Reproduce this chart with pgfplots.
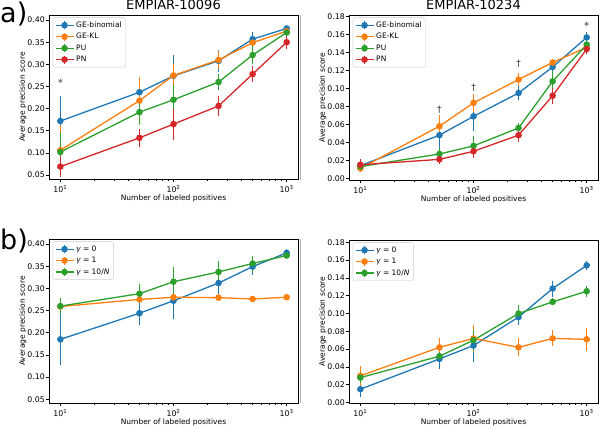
\documentclass[border=0pt]{standalone}
\usepackage{fontspec}
\setmainfont{DejaVu Sans}
\usepackage{pgfplots}
\usepackage{pgfplotstable}
\pgfplotsset{compat=1.18}
\definecolor{c1}{HTML}{1F77B4}
\definecolor{c2}{HTML}{FF7F0E}
\definecolor{c3}{HTML}{2CA02C}
\definecolor{c4}{HTML}{D62728}

\pgfplotstableread{
x y e
10 0.172 0.056
50 0.237 0.020
100 0.274 0.046
250 0.308 0.025
500 0.357 0.017
1000 0.381 0.008
}\aLge
\pgfplotstableread{
x y e
10 0.106 0.058
50 0.218 0.054
100 0.275 0.025
250 0.310 0.020
500 0.349 0.014
1000 0.375 0.008
}\aLkl
\pgfplotstableread{
x y e
10 0.102 0.043
50 0.192 0.027
100 0.220 0.033
250 0.260 0.018
500 0.321 0.020
1000 0.372 0.018
}\aLpu
\pgfplotstableread{
x y e
10 0.069 0.024
50 0.134 0.020
100 0.165 0.035
250 0.206 0.022
500 0.278 0.018
1000 0.350 0.015
}\aLpn
\pgfplotstableread{
x y e
10 0.014 0.003
50 0.048 0.015
100 0.069 0.016
250 0.095 0.008
500 0.124 0.006
1000 0.157 0.006
}\aRge
\pgfplotstableread{
x y e
10 0.011 0.004
50 0.058 0.012
100 0.084 0.010
250 0.110 0.007
500 0.129 0.004
1000 0.146 0.005
}\aRkl
\pgfplotstableread{
x y e
10 0.013 0.004
50 0.027 0.007
100 0.036 0.011
250 0.056 0.006
500 0.108 0.012
1000 0.149 0.006
}\aRpu
\pgfplotstableread{
x y e
10 0.015 0.006
50 0.021 0.005
100 0.030 0.007
250 0.048 0.008
500 0.092 0.009
1000 0.144 0.006
}\aRpn
\pgfplotstableread{
x y e
10 0.185 0.058
50 0.244 0.027
100 0.272 0.040
250 0.312 0.025
500 0.349 0.020
1000 0.380 0.008
}\bLa
\pgfplotstableread{
x y e
10 0.259 0.008
50 0.275 0.004
100 0.280 0.004
250 0.279 0.004
500 0.276 0.004
1000 0.280 0.004
}\bLb
\pgfplotstableread{
x y e
10 0.260 0.018
50 0.288 0.022
100 0.315 0.033
250 0.337 0.025
500 0.356 0.018
1000 0.374 0.008
}\bLc
\pgfplotstableread{
x y e
10 0.015 0.009
50 0.049 0.011
100 0.064 0.018
250 0.096 0.009
500 0.128 0.009
1000 0.154 0.005
}\bRa
\pgfplotstableread{
x y e
10 0.030 0.011
50 0.062 0.011
100 0.072 0.015
250 0.062 0.010
500 0.072 0.009
1000 0.071 0.013
}\bRb
\pgfplotstableread{
x y e
10 0.028 0.006
50 0.052 0.005
100 0.070 0.012
250 0.100 0.009
500 0.113 0.004
1000 0.125 0.006
}\bRc

\pgfplotsset{
  every axis/.append style={
    width=249pt, height=164pt, scale only axis,
    xmin=7.94, xmax=1259,
    xtick={10,100,1000},
    xticklabels={10\textsuperscript{1},10\textsuperscript{2},10\textsuperscript{3}},
    tick align=outside, tick pos=left,
    major tick length=3pt, minor tick length=1.8pt,
    axis line style={line width=0.7pt},
    yticklabel style={/pgf/number format/fixed, /pgf/number format/fixed zerofill, /pgf/number format/precision=2, /pgf/number format/assume math mode=true, inner sep=1pt},
    tick label style={font=\fontsize{7.8}{9}\selectfont},
    label style={font=\fontsize{7.5}{9}\selectfont},
    xlabel={Number of labeled positives},
    ylabel={Average precision score},
    xlabel style={yshift=5pt},
    ylabel style={yshift=-3.5pt},
    title style={font=\fontsize{13}{15}\selectfont, anchor=base, yshift=-1pt},
    legend style={at={(0.015,0.985)}, anchor=north west, font=\fontsize{7.5}{9}\selectfont,
      draw=gray!40, rounded corners=2pt, row sep=0.4pt, inner sep=2pt},
    legend cell align=left,
    legend image code/.code={
      \draw[line width=1.3pt] (9pt,-4pt) -- (9pt,4pt);
      \draw[mark repeat=2, mark phase=2] plot coordinates {(0pt,0pt) (9pt,0pt) (18pt,0pt)};
    },
  },
  every tick/.style={black, line width=0.6pt},
  ser/.style={color=#1, solid, line width=1.3pt, mark=*, mark size=2.6pt,
    mark options={fill=#1, draw=#1}},
  eb/.style={error bars/y dir=both, error bars/y explicit, error bars/error mark=none,
    error bars/error bar style={line width=1.3pt}},
}

\begin{document}
\begin{tikzpicture}
\path[use as bounding box] (0pt,0pt) rectangle (600pt,426pt);
\draw[gray!60, line width=0.6pt] (300.5pt,411pt) -- (300.5pt,246pt);
\draw[gray!60, line width=0.6pt] (300.5pt,187pt) -- (300.5pt,23pt);
\node[anchor=base west, inner sep=0pt] at (0pt,403.3pt) {\fontsize{27}{30}\selectfont a)};
\node[anchor=base west, inner sep=0pt] at (0pt,176pt) {\fontsize{27}{30}\selectfont b)};

% a-left
\begin{semilogxaxis}[at={(49pt,247pt)}, anchor=south west,
  ymin=0.041, ymax=0.4115, ytick={0.05,0.10,...,0.41},
  title={EMPIAR-10096}]
\addplot[ser=c1, eb] table[x=x,y=y,y error=e] {\aLge};
\addlegendentry{GE-binomial}
\addplot[ser=c2, eb] table[x=x,y=y,y error=e] {\aLkl};
\addlegendentry{GE-KL}
\addplot[ser=c3, eb] table[x=x,y=y,y error=e] {\aLpu};
\addlegendentry{PU}
\addplot[ser=c4, eb] table[x=x,y=y,y error=e] {\aLpn};
\addlegendentry{PN}
\node[font=\fontsize{10}{11}\selectfont, text=black!75] at (axis cs:10,0.258) {*};
\end{semilogxaxis}

% a-right
\begin{semilogxaxis}[at={(349pt,246pt)}, anchor=south west, height=165pt,
  ymin=-0.002, ymax=0.182, ytick={0,0.02,...,0.181},
  title={EMPIAR-10234}]
\addplot[ser=c1, eb] table[x=x,y=y,y error=e] {\aRge};
\addlegendentry{GE-binomial}
\addplot[ser=c2, eb] table[x=x,y=y,y error=e] {\aRkl};
\addlegendentry{GE-KL}
\addplot[ser=c3, eb] table[x=x,y=y,y error=e] {\aRpu};
\addlegendentry{PU}
\addplot[ser=c4, eb] table[x=x,y=y,y error=e] {\aRpn};
\addlegendentry{PN}
\node[font=\fontsize{9}{10}\selectfont, text=black!80] at (axis cs:50,0.077) {†};
\node[font=\fontsize{9}{10}\selectfont, text=black!80] at (axis cs:100,0.101) {†};
\node[font=\fontsize{9}{10}\selectfont, text=black!80] at (axis cs:250,0.128) {†};
\node[font=\fontsize{10}{11}\selectfont, text=black!80] at (axis cs:1000,0.170) {*};
\end{semilogxaxis}

% b-left
\begin{semilogxaxis}[at={(49pt,23pt)}, anchor=south west,
  ymin=0.0415, ymax=0.4113, ytick={0.05,0.10,...,0.41}]
\addplot[ser=c1, eb] table[x=x,y=y,y error=e] {\bLa};
\addlegendentry{{\itshape γ} = 0}
\addplot[ser=c2, eb] table[x=x,y=y,y error=e] {\bLb};
\addlegendentry{{\itshape γ} = 1}
\addplot[ser=c3, eb] table[x=x,y=y,y error=e] {\bLc};
\addlegendentry{{\itshape γ} = 10/{\itshape N}}
\end{semilogxaxis}

% b-right
\begin{semilogxaxis}[at={(349pt,23pt)}, anchor=south west, height=163pt,
  ymin=-0.0005, ymax=0.1825, ytick={0,0.02,...,0.181}]
\addplot[ser=c1, eb] table[x=x,y=y,y error=e] {\bRa};
\addlegendentry{{\itshape γ} = 0}
\addplot[ser=c2, eb] table[x=x,y=y,y error=e] {\bRb};
\addlegendentry{{\itshape γ} = 1}
\addplot[ser=c3, eb] table[x=x,y=y,y error=e] {\bRc};
\addlegendentry{{\itshape γ} = 10/{\itshape N}}
\end{semilogxaxis}
\end{tikzpicture}
\end{document}
